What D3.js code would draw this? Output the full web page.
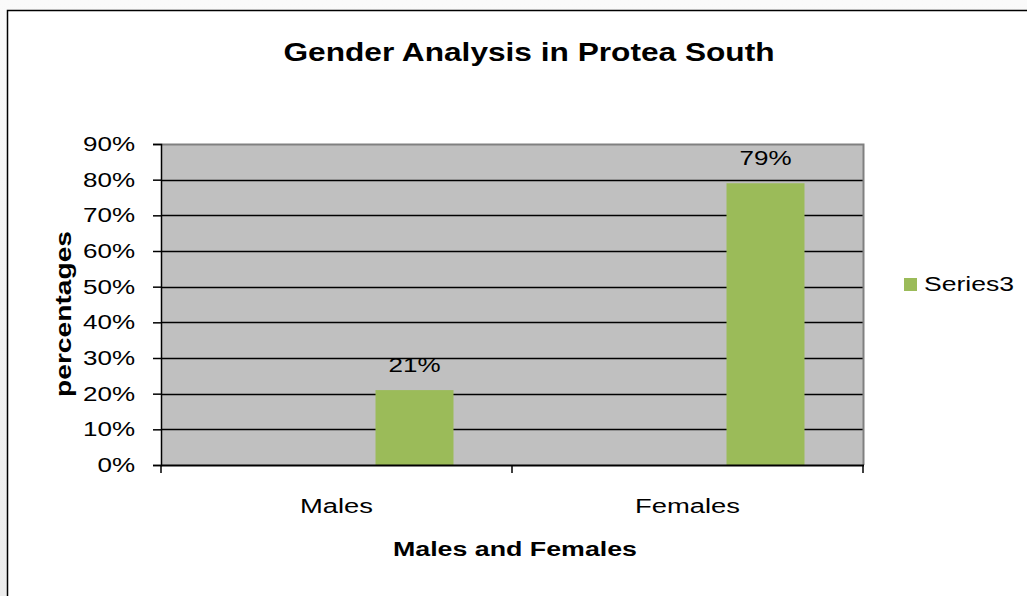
<!DOCTYPE html>
<html>
<head>
<meta charset="utf-8">
<script src="https://cdn.jsdelivr.net/npm/d3@7"></script>
<style>
  html, body { margin: 0; padding: 0; background: #f0f0f0; }
  svg { display: block; font-family: "Liberation Sans", Arial, sans-serif; }
</style>
</head>
<body>
<svg id="chart" width="1027" height="596"></svg>
<script>
const categories = ["Males", "Females"];
const seriesSlots = ["Series1", "Series2", "Series3"];
const seriesName = "Series3";
const seriesValues = [21, 79];
const valueLabels = ["21%", "79%"];
const yTicks = [0, 10, 20, 30, 40, 50, 60, 70, 80, 90];
const title = "Gender Analysis in Protea South";
const xTitle = "Males and Females";
const yTitle = "percentages";

const svg = d3.select("#chart");
const W = 1027, H = 596;

// stretch text horizontally (reference rendering is wider)
function stretch(sel, k) {
  sel.each(function () {
    const len = this.getComputedTextLength();
    d3.select(this).attr("textLength", len * k).attr("lengthAdjust", "spacingAndGlyphs");
  });
}

const defs = svg.append("defs");
const grad = defs.append("linearGradient").attr("id", "bg").attr("x1", 0).attr("y1", 0).attr("x2", 0).attr("y2", 1);
grad.append("stop").attr("offset", "0%").attr("stop-color", "#fafafa");
grad.append("stop").attr("offset", "100%").attr("stop-color", "#ececec");
svg.append("rect").attr("width", W).attr("height", H).attr("fill", "url(#bg)");

svg.append("rect").attr("x", 7.5).attr("y", 10.5).attr("width", W + 10).attr("height", H + 10)
  .attr("fill", "#ffffff").attr("stroke", "#000").attr("stroke-width", 1.5);

const plot = { left: 161, top: 144, right: 863, bottom: 465 };

const y = d3.scaleLinear().domain([0, 90]).range([plot.bottom, plot.top]);
const x = d3.scaleBand().domain(categories).range([plot.left, plot.right]).paddingInner(0).paddingOuter(0);
const xs = d3.scaleBand().domain(seriesSlots).range([0, x.bandwidth()]).paddingOuter(0.75).paddingInner(0);

svg.append("rect").attr("x", plot.left).attr("y", plot.top)
  .attr("width", plot.right - plot.left).attr("height", plot.bottom - plot.top)
  .attr("fill", "#c0c0c0");

svg.append("g").selectAll("line").data(yTicks.filter(d => d > 0 && d < 90)).join("line")
  .attr("x1", plot.left).attr("x2", plot.right)
  .attr("y1", d => Math.round(y(d)) + 0.5).attr("y2", d => Math.round(y(d)) + 0.5)
  .attr("stroke", "#000").attr("stroke-width", 1.5);

svg.append("path")
  .attr("d", `M${plot.left},${plot.top + 0.5}H${plot.right + 0.5}V${plot.bottom}`)
  .attr("fill", "none").attr("stroke", "#808080").attr("stroke-width", 2);

svg.append("g").selectAll("rect").data(categories).join("rect")
  .attr("x", d => x(d) + xs(seriesName))
  .attr("width", xs.bandwidth())
  .attr("y", (d, i) => y(seriesValues[i]))
  .attr("height", (d, i) => plot.bottom - y(seriesValues[i]))
  .attr("fill", "#9bbb59");

const vl = svg.append("g").selectAll("text").data(categories).join("text")
  .attr("x", d => x(d) + xs(seriesName) + xs.bandwidth() / 2)
  .attr("y", (d, i) => y(seriesValues[i]) - 18)
  .attr("text-anchor", "middle")
  .attr("font-size", 20).attr("fill", "#000")
  .text((d, i) => valueLabels[i]);
stretch(vl, 1.3);

const yAxis = d3.axisLeft(y).tickValues(yTicks).tickFormat(d => d + "%").tickSize(8).tickPadding(18);
const gy = svg.append("g").attr("transform", `translate(${plot.left},0)`).call(yAxis);
gy.select(".domain").attr("stroke", "#000").attr("stroke-width", 1.5);
gy.selectAll(".tick line").attr("stroke", "#000").attr("stroke-width", 1.5);
const yt = gy.selectAll(".tick text").attr("font-size", 20).attr("fill", "#000")
  .attr("font-family", "Liberation Sans, Arial, sans-serif");
stretch(yt, 1.3);

const gx = svg.append("g").attr("transform", `translate(0,${plot.bottom})`);
gx.append("line").attr("x1", plot.left).attr("x2", plot.right + 1).attr("y1", 0.5).attr("y2", 0.5)
  .attr("stroke", "#000").attr("stroke-width", 2);
const boundaries = [plot.left, ...categories.map(c => x(c) + x.bandwidth())];
gx.selectAll(".bt").data(boundaries).join("line").attr("class", "bt")
  .attr("x1", d => d).attr("x2", d => d).attr("y1", 0).attr("y2", 8)
  .attr("stroke", "#000").attr("stroke-width", 1.5);
const cl = gx.selectAll(".cl").data(categories).join("text").attr("class", "cl")
  .attr("x", d => x(d) + x.bandwidth() / 2).attr("y", 48)
  .attr("text-anchor", "middle").attr("font-size", 20).attr("fill", "#000")
  .text(d => d);
stretch(cl, 1.37);

const tt = svg.append("text").attr("x", 529).attr("y", 61).attr("text-anchor", "middle")
  .attr("font-size", 25).attr("font-weight", "bold").text(title);
tt.attr("textLength", 491).attr("lengthAdjust", "spacingAndGlyphs");

svg.append("text").attr("x", 515).attr("y", 556).attr("text-anchor", "middle")
  .attr("font-size", 20).attr("font-weight", "bold").text(xTitle)
  .attr("textLength", 244).attr("lengthAdjust", "spacingAndGlyphs");
svg.append("text").attr("transform", "translate(71,314) rotate(-90)").attr("text-anchor", "middle")
  .attr("font-size", 22).attr("font-weight", "bold").text(yTitle)
  .attr("textLength", 166).attr("lengthAdjust", "spacingAndGlyphs");

const lg = svg.append("g").attr("transform", "translate(904,278)");
lg.append("rect").attr("width", 13).attr("height", 13).attr("fill", "#9bbb59");
lg.append("text").attr("x", 20).attr("y", 13).attr("font-size", 20).text(seriesName)
  .attr("textLength", 90).attr("lengthAdjust", "spacingAndGlyphs");
</script>
</body>
</html>
